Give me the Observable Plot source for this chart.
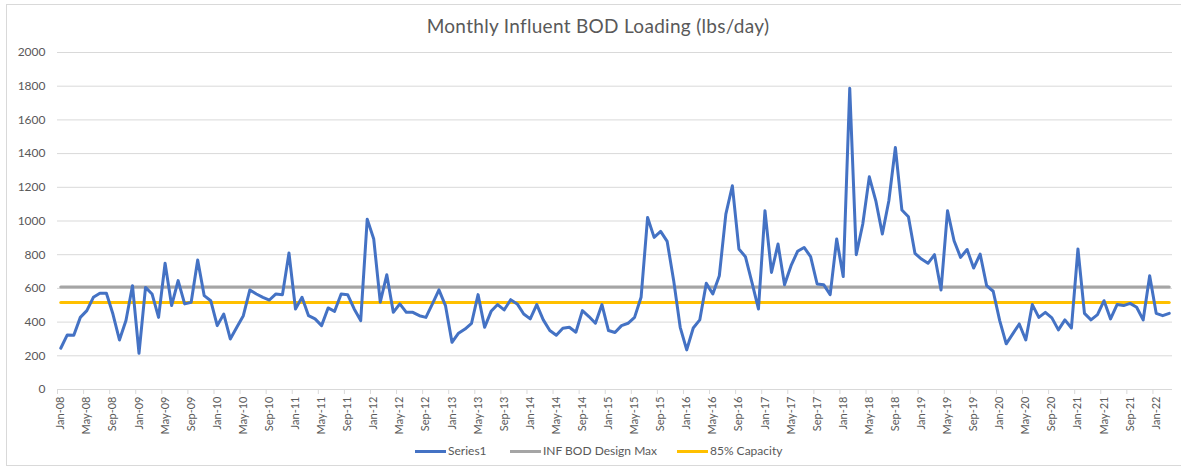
<!DOCTYPE html>
<html>
<head>
<meta charset="utf-8">
<script src="https://cdn.jsdelivr.net/npm/d3@7"></script>
<script src="https://cdn.jsdelivr.net/npm/@observablehq/plot@0.6"></script>
<style>
  html, body { margin: 0; padding: 0; background: #fff; }
  body { width: 1181px; height: 468px; position: relative; overflow: hidden; font-family: Lato, "Open Sans", sans-serif; }
  #frame { position: absolute; left: 6px; top: 4px; width: 1190px; height: 462px; border: 1px solid #d9d9d9; box-sizing: border-box; pointer-events: none; }
  #title { position: absolute; left: 0; top: 0; width: 1181px; height: 40px; box-sizing: border-box; padding-top: 12px; padding-left: 15px; line-height: 28px; text-align: center; font-size: 19px; letter-spacing: 0.3px; color: #595959; }
  #chart { position: absolute; left: 0; top: 40px; }
  #legend { position: absolute; left: 0; top: 440px; width: 1181px; height: 24px; font-size: 12px; color: #595959; }
  .sw { position: absolute; top: 10px; height: 3px; width: 31px; }
  .lt { position: absolute; top: 3px; line-height: 16px; white-space: nowrap; }
</style>
</head>
<body>
<div id="title">Monthly Influent BOD Loading (lbs/day)</div>
<div id="chart"></div>
<div id="legend"></div>
<div id="frame"></div>
<script>
// Monthly values, Jan-08 .. Mar-22
const series = [
  245, 324, 322, 428, 468, 547, 571, 571, 448, 294, 409, 616,
  215, 606, 567, 428, 749, 498, 646, 508, 518, 768, 557, 527,
  379, 448, 300, 369, 438, 591, 567, 547, 531, 567, 563, 810,
  478, 547, 438, 419, 379, 484, 464, 567, 563, 478, 409, 1011,
  893, 518, 681, 458, 508, 458, 458, 438, 428, 508, 591, 498,
  280, 334, 359, 393, 563, 369, 464, 504, 472, 533, 508, 448,
  419, 504, 413, 350, 322, 363, 369, 340, 468, 433, 393, 504,
  350, 338, 379, 393, 428, 547, 1021, 903, 938, 879, 646, 369,
  235, 365, 413, 630, 567, 675, 1041, 1209, 834, 788, 636, 478,
  1061, 695, 863, 622, 735, 820, 843, 788, 626, 622, 563, 893,
  670, 1788, 800, 982, 1262, 1120, 923, 1120, 1436, 1065, 1025, 808,
  774, 749, 800, 591, 1061, 883, 784, 831, 721, 804, 616, 583,
  409, 271, 330, 389, 294, 504, 428, 458, 425, 354, 413, 365,
  834, 452, 413, 444, 527, 419, 504, 498, 511, 488, 413, 675,
  452, 438, 452
];
const designMax = 608;
const capacity85 = 517;
const tickLabels = [
  "Jan-08","May-08","Sep-08","Jan-09","May-09","Sep-09","Jan-10","May-10","Sep-10",
  "Jan-11","May-11","Sep-11","Jan-12","May-12","Sep-12","Jan-13","May-13","Sep-13",
  "Jan-14","May-14","Sep-14","Jan-15","May-15","Sep-15","Jan-16","May-16","Sep-16",
  "Jan-17","May-17","Sep-17","Jan-18","May-18","Sep-18","Jan-19","May-19","Sep-19",
  "Jan-20","May-20","Sep-20","Jan-21","May-21","Sep-21","Jan-22"
];
const yTicks = [0, 200, 400, 600, 800, 1000, 1200, 1400, 1600, 1800, 2000];
const seriesNames = ["Series1", "INF BOD Design Max", "85% Capacity"];
const seriesColors = ["#4472C4", "#A5A5A5", "#FFC000"];

const n = series.length;
const data = series.map((v, i) => ({i: i + 0.5, v}));
const refData = (val) => [{i: 0.5, v: val}, {i: n - 0.5, v: val}];
const labelPos = tickLabels.map((_, k) => k * 4 + 0.5);
const boundaryPos = tickLabels.map((_, k) => k * 4);

const chart = Plot.plot({
  width: 1181,
  height: 400,
  marginLeft: 57,
  marginRight: 9,
  marginTop: 12,
  marginBottom: 51,
  style: {fontFamily: "Lato, 'Open Sans', sans-serif", color: "#595959", background: "transparent"},
  x: {domain: [0, n]},
  y: {domain: [0, 2000]},
  marks: [
    Plot.gridY(yTicks.slice(1), {stroke: "#d9d9d9", strokeOpacity: 1, strokeWidth: 1}),
    Plot.ruleY([0], {stroke: "#d9d9d9", strokeWidth: 1}),
    Plot.axisY(yTicks, {tickSize: 0, tickPadding: 12, fontSize: 12, fill: "#595959", label: null,
      tickFormat: (d) => String(d)}),
    Plot.axisX(boundaryPos, {tickSize: 5, stroke: "#d9d9d9", tickFormat: () => "", label: null}),
    Plot.axisX(labelPos, {tickSize: 0, tickPadding: 7, tickRotate: -90, fontSize: 11, fill: "#595959",
      tickFormat: (d, k) => tickLabels[k], label: null}),
    Plot.line(refData(designMax), {x: "i", y: "v", stroke: seriesColors[1], strokeWidth: 3}),
    Plot.line(refData(capacity85), {x: "i", y: "v", stroke: seriesColors[2], strokeWidth: 3}),
    Plot.line(data, {x: "i", y: "v", stroke: seriesColors[0], strokeWidth: 3, strokeLinejoin: "round", strokeLinecap: "round"})
  ]
});
document.getElementById("chart").appendChild(chart);

// legend
const legend = document.getElementById("legend");
const legendX = [415, 510, 677];
seriesNames.forEach((name, k) => {
  const sw = document.createElement("div");
  sw.className = "sw";
  sw.style.left = legendX[k] + "px";
  sw.style.background = seriesColors[k];
  legend.appendChild(sw);
  const t = document.createElement("div");
  t.className = "lt";
  t.style.left = (legendX[k] + 33) + "px";
  t.textContent = name;
  legend.appendChild(t);
});
</script>
</body>
</html>
